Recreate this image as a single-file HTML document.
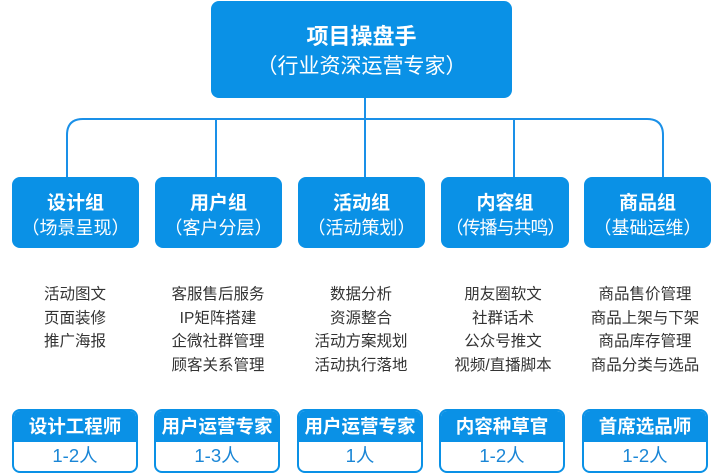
<!DOCTYPE html>
<html><head><meta charset="utf-8"><style>
body{margin:0;width:720px;height:474px;background:#fff;position:relative;overflow:hidden;font-family:"Liberation Sans","Noto Sans CJK SC",sans-serif}
.b{position:absolute;background:#0a91e6;border-radius:8px;color:#fff;text-align:center}
.t{position:absolute;width:100%;left:0;font-weight:bold}
.s{position:absolute;width:100%;left:0}
.list{position:absolute;top:283px;width:142px;text-align:center;color:#333;font-size:15.5px;line-height:23.5px}
.r{position:absolute;top:409px;width:122px;height:60px;border:2px solid #0a91e6;border-radius:8px;overflow:hidden;background:#fff;text-align:center}
.r .h{height:31px;background:#0a91e6;color:#fff;font-weight:bold;font-size:18.5px;line-height:31px;white-space:nowrap}
.r .n{color:#1a86d6;font-size:18.5px;line-height:28px}
</style></head><body>
<svg width="720" height="474" style="position:absolute;left:0;top:0">
<g stroke="#1a90e8" stroke-width="2" fill="none">
<line x1="365" y1="98" x2="365" y2="178"/>
<path d="M67 178 V135 Q67 119 83 119 H647 Q663 119 663 135 V178"/>
<line x1="216" y1="119" x2="216" y2="178"/>
<line x1="514" y1="119" x2="514" y2="178"/>
</g></svg>
<div class="b" style="left:211px;top:1px;width:301px;height:97px">
<div class="t" style="top:18px;font-size:22px">项目操盘手</div>
<div class="s" style="top:49px;font-size:21px">（行业资深运营专家）</div></div>

<div class="b" style="left:12px;top:177px;width:127px;height:71px"><div class="t" style="top:11px;font-size:19px">设计组</div><div class="s" style="top:37px;font-size:18px">（场景呈现）</div></div>
<div class="b" style="left:155px;top:177px;width:127px;height:71px"><div class="t" style="top:11px;font-size:19px">用户组</div><div class="s" style="top:37px;font-size:18px">（客户分层）</div></div>
<div class="b" style="left:298px;top:177px;width:127px;height:71px"><div class="t" style="top:11px;font-size:19px">活动组</div><div class="s" style="top:37px;font-size:18px">（活动策划）</div></div>
<div class="b" style="left:441px;top:177px;width:128px;height:71px"><div class="t" style="top:11px;font-size:19px">内容组</div><div class="s" style="top:37px;font-size:18px;letter-spacing:-1px">（传播与共鸣）</div></div>
<div class="b" style="left:584px;top:177px;width:127px;height:71px"><div class="t" style="top:11px;font-size:19px">商品组</div><div class="s" style="top:37px;font-size:18px">（基础运维）</div></div>

<div class="list" style="left:4px">活动图文<br>页面装修<br>推广海报</div>
<div class="list" style="left:147px">客服售后服务<br>IP矩阵搭建<br>企微社群管理<br>顾客关系管理</div>
<div class="list" style="left:290px">数据分析<br>资源整合<br>活动方案规划<br>活动执行落地</div>
<div class="list" style="left:432px">朋友圈软文<br>社群话术<br>公众号推文<br>视频/直播脚本</div>
<div class="list" style="left:574px">商品售价管理<br>商品上架与下架<br>商品库存管理<br>商品分类与选品</div>

<div class="r" style="left:12px"><div class="h">设计工程师</div><div class="n">1-2人</div></div>
<div class="r" style="left:154px"><div class="h">用户运营专家</div><div class="n">1-3人</div></div>
<div class="r" style="left:297px"><div class="h">用户运营专家</div><div class="n">1人</div></div>
<div class="r" style="left:439px"><div class="h">内容种草官</div><div class="n">1-2人</div></div>
<div class="r" style="left:582px"><div class="h">首席选品师</div><div class="n">1-2人</div></div>
</body></html>
